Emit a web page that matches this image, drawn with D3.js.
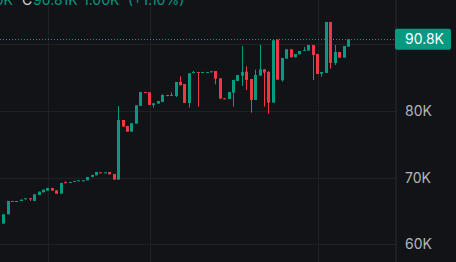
<!DOCTYPE html>
<html>
<head>
<meta charset="utf-8">
<script src="https://cdn.jsdelivr.net/npm/d3@7"></script>
<style>
  body { margin: 0; background: #121317; }
  svg { display: block; }
</style>
</head>
<body>
<div id="chart"></div>
<script>
var svgWidth = 456;
var svgHeight = 262;

// candles, values in K
var opens = [63.1,64.5,66.45,66.45,66.5,66.85,66.9,66.5,67.4,67.8,68.05,68.45,68.1,67.6,69.3,69.3,69.45,69.55,69.55,69.6,
  70.1,70.35,70.8,70.75,70.85,70.55,69.7,78.65,77.75,76.9,78.1,80.75,82.85,82.8,80.9,81.1,81.35,82.4,82.35,82.25,
  84.35,84.05,81.2,85.8,85.85,85.8,85.8,85.9,86.0,84.9,81.9,81.8,82.75,84.5,85.3,85.9,84.8,81.65,85.3,86.25,
  85.85,81.25,90.7,84.6,87.85,89.25,88.05,88.5,89.1,89.05,89.9,88.55,85.6,85.7,93.35,87.2,88.85,88.0,89.65];
var closes = [64.5,66.5,66.5,66.5,66.7,66.9,66.85,67.5,67.9,68.2,68.45,68.05,67.6,69.2,69.2,69.35,69.5,69.6,69.6,70.1,
  70.4,70.85,70.75,70.8,70.5,69.7,78.65,77.65,76.9,78.15,80.85,82.85,82.8,80.9,81.15,81.5,82.4,82.35,82.4,84.35,
  83.85,81.2,85.65,85.85,85.75,85.85,85.85,85.95,84.85,81.85,81.8,82.85,84.65,85.4,85.85,84.65,81.65,85.4,86.25,85.75,
  81.25,90.6,84.7,87.95,89.25,88.05,88.55,89.0,89.15,89.9,88.4,85.55,85.85,93.35,87.2,88.85,88.0,89.75,90.75];
var highs = [64.5,66.5,66.5,66.5,66.7,66.9,66.95,67.5,67.9,68.2,68.45,68.45,68.1,69.2,69.45,69.35,69.5,69.6,69.6,70.1,
  70.4,70.85,70.8,70.8,70.85,70.55,80.75,78.65,77.75,78.15,80.85,82.85,82.85,82.8,81.15,81.5,82.5,82.4,82.8,84.35,
  85.2,84.05,85.65,86.0,85.85,85.85,85.85,85.95,86.0,84.9,81.9,82.85,84.65,85.4,89.75,86.7,84.8,86.2,89.9,86.25,
  86.0,90.6,90.7,87.95,89.25,89.25,88.55,89.0,89.6,89.9,89.9,88.55,85.85,93.35,93.35,89.9,88.85,89.75,90.75];
var lows = [63.1,64.5,66.45,66.45,66.5,66.85,66.5,66.5,67.4,67.8,68.05,68.05,67.6,67.6,69.2,69.3,69.45,69.55,69.55,69.6,
  70.1,70.35,70.75,70.75,70.5,69.7,69.7,77.65,76.9,76.9,78.1,80.75,82.8,80.9,80.5,81.1,81.35,82.2,82.35,82.1,
  83.85,81.2,80.5,85.8,80.65,85.8,85.8,85.9,84.0,81.85,81.8,81.8,80.65,84.5,83.75,83.15,79.75,81.65,85.3,80.65,
  79.6,81.25,84.7,84.4,87.85,88.05,88.05,88.5,89.1,89.05,84.65,85.55,85.15,85.7,86.35,86.9,88.0,88.0,89.65];

var gridTicks = [60, 70, 80, 90];
var labelTicks = [60, 70, 80]; // 90K sits under the last price label
var gridCandles = [10, 33, 71];
var lastPrice = 90.75;
var lastLabel = "90.8K";

var green = "#089981";
var red = "#f23645";
var plotRight = 395.5;

var candles = opens.map(function(o, i) {
  return {i: i, open: o, close: closes[i], high: highs[i], low: lows[i]};
});

var svg = d3.select("#chart")
  .append("svg")
  .attr("width", svgWidth)
  .attr("height", svgHeight);

svg.append("rect")
  .attr("width", svgWidth)
  .attr("height", svgHeight)
  .attr("fill", "#121317");

var xScale = d3.scaleBand()
  .domain(d3.range(candles.length))
  .range([1.5, 1.5 + candles.length * 4.42])
  .paddingInner(0.32)
  .paddingOuter(0.16);

var yScale = d3.scaleLinear()
  .domain([60, 90])
  .range([244.3, 44.3]);

function cx(i) {
  return xScale(i) + xScale.bandwidth() / 2;
}

// grid
svg.append("g")
  .selectAll("line")
  .data(gridTicks)
  .enter()
  .append("line")
  .attr("x1", 0)
  .attr("x2", plotRight)
  .attr("y1", d => Math.round(yScale(d)) + 0.5)
  .attr("y2", d => Math.round(yScale(d)) + 0.5)
  .attr("stroke", "#1f2126");

svg.append("g")
  .selectAll("line")
  .data(gridCandles)
  .enter()
  .append("line")
  .attr("x1", d => Math.round(cx(d)) + 0.5)
  .attr("x2", d => Math.round(cx(d)) + 0.5)
  .attr("y1", 0)
  .attr("y2", svgHeight)
  .attr("stroke", "#1f2126");

// axis separator
svg.append("line")
  .attr("x1", plotRight + 0.5)
  .attr("x2", plotRight + 0.5)
  .attr("y1", 0)
  .attr("y2", svgHeight)
  .attr("stroke", "#2a2c31");

// candles
var candleG = svg.append("g")
  .selectAll("g")
  .data(candles)
  .enter()
  .append("g")
  .attr("fill", d => d.close >= d.open ? green : red);

candleG.append("rect")
  .attr("x", d => Math.round(cx(d.i) - 0.5))
  .attr("width", 1)
  .attr("y", d => yScale(d.high))
  .attr("height", d => Math.max(1, yScale(d.low) - yScale(d.high)));

candleG.append("rect")
  .attr("x", d => Math.round(cx(d.i) - 1.5))
  .attr("width", 3)
  .attr("y", d => yScale(Math.max(d.open, d.close)))
  .attr("height", d => Math.max(1, Math.abs(yScale(d.open) - yScale(d.close))));

// last price line
svg.append("line")
  .attr("x1", 0)
  .attr("x2", plotRight)
  .attr("y1", Math.round(yScale(lastPrice)) + 0.5)
  .attr("y2", Math.round(yScale(lastPrice)) + 0.5)
  .attr("stroke", green)
  .attr("stroke-dasharray", "1 2");

// price axis
var rightAxis = d3.axisRight(yScale)
  .tickValues(labelTicks)
  .tickSize(0)
  .tickPadding(0)
  .tickFormat(d => d + "K");

var axisG = svg.append("g")
  .attr("transform", "translate(405,0)")
  .call(rightAxis);
axisG.select(".domain").remove();
axisG.selectAll("text")
  .attr("fill", "#b2b5be")
  .attr("font-family", "Inter, 'Noto Sans', sans-serif")
  .attr("font-size", 14);

// last price label
var yl = yScale(lastPrice);
svg.append("rect")
  .attr("x", 395)
  .attr("y", yl - 10.5)
  .attr("width", 56)
  .attr("height", 21)
  .attr("rx", 2)
  .attr("fill", green);
svg.append("text")
  .attr("x", 405)
  .attr("y", yl)
  .attr("dy", "0.36em")
  .attr("fill", "#ffffff")
  .attr("font-family", "Inter, 'Noto Sans', sans-serif")
  .attr("font-size", 14)
  .text(lastLabel);

// header, mostly cut off at the top
var header = svg.append("g")
  .attr("font-family", "Inter, 'Noto Sans', sans-serif")
  .attr("font-size", 14);
header.append("text").attr("x", 13).attr("y", 5.3).attr("text-anchor", "end").attr("fill", green).text("89.80K");
header.append("text").attr("x", 22).attr("y", 5.3).attr("fill", "#d1d4dc").text("C");
header.append("text").attr("x", 33).attr("y", 5.3).attr("fill", green).text("90.81K");
header.append("text").attr("x", 83).attr("y", 5.3).attr("fill", green).text("1.00K");
header.append("text").attr("x", 128).attr("y", 5.3).attr("fill", green).text("(+1.10%)");
</script>
</body>
</html>
